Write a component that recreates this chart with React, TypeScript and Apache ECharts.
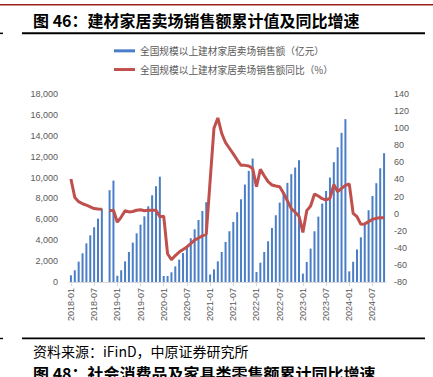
import React, { useEffect, useRef } from "react";
import * as echarts from "echarts";

const titleText = "图 46：建材家居卖场销售额累计值及同比增速";
const sourceText = "资料来源：iFinD，中原证券研究所";
const nextTitleText = "图 48：社会消费品及家具类零售额累计同比增速";
const barName = "全国规模以上建材家居卖场销售额（亿元）";
const lineName = "全国规模以上建材家居卖场销售额同比（%）";

const years = [2018, 2019, 2020, 2021, 2022, 2023, 2024];
const lastMonth2024 = 10;

// 累计销售额（亿元）
const sales2018 = [640, 1120, 1950, 2750, 3700, 4470, 5240, 6070, 7030, null, 8790, 9710];
const sales2019 = [600, 1120, 1980, 2875, 3770, 4660, 5490, 6290, 7250, 8300, 9170, 10080];
const sales2020 = [575, 575, 930, 1500, 2140, 2780, 3390, 4190, 5050, 5940, 6800, 7640];
const sales2021 = [720, 1210, 1980, 2875, 3830, 4860, 5750, 6680, 7920, 9330, 10640, 11820];
const sales2022 = [960, 1850, 2875, 3900, 5175, 6390, 7600, 8560, 9490, 10320, 10960, 11660];
const sales2023 = [800, 1920, 3195, 4860, 6260, 7510, 8720, 10000, 11470, 12900, 14280, 15590];
const sales2024 = [1020, 1940, 3120, 4280, 5530, 6870, 8240, 9460, 10890, 12330];

// 同比（%）
const yoy2018 = [40.5, 19, 14, 11.6, 10, 8, 6, 5.4, 5, null, 3.4, 4];
const yoy2019 = [-10, -4, 3.4, 2, 2.5, 4, 4.5, 3.4, 4, 4, 4, -3.6];
const yoy2020 = [-3, -47, -54, -49, -45, -42, -39, -35, -31, -28.5, -26, -24];
const yoy2021 = [38, 100, 112, 94, 83, 76.5, 70, 63, 56.5, 56.5, 55.7, 53];
const yoy2022 = [31.5, 52, 44.4, 37.4, 33.5, 32.3, 31.5, 23.8, 15, 6, 1.6, -3];
const yoy2023 = [-22, 3.5, 9, 23, 20.6, 17.5, 16, 18, 34, 25.7, 29.6, 33];
const yoy2024 = [34.7, 0.4, -3.6, -12.5, -12, -9.4, -6.6, -5.5, -4.7, -4.7];

const leftTicks = { min: 0, max: 18000, interval: 2000 };
const rightTicks = { min: -80, max: 140, interval: 20 };

const categories: string[] = [];
years.forEach((y) => {
  const last = y === 2024 ? lastMonth2024 : 12;
  for (let m = 1; m <= last; m++) categories.push(`${y}-${m < 10 ? "0" + m : m}`);
});

const salesData = [...sales2018, ...sales2019, ...sales2020, ...sales2021, ...sales2022, ...sales2023, ...sales2024];
const yoyData = [...yoy2018, ...yoy2019, ...yoy2020, ...yoy2021, ...yoy2022, ...yoy2023, ...yoy2024];

const axisFont = "'Liberation Sans', Arial, sans-serif";
const cjkFont = "'Noto Sans CJK SC', sans-serif";

export default function App() {
  const ref = useRef<HTMLDivElement>(null);
  useEffect(() => {
    if (!ref.current) return;
    const chart = echarts.init(ref.current, null, { renderer: "svg" });
    chart.setOption({
      animation: false,
      backgroundColor: "#ffffff",
      legend: {
        orient: "vertical",
        left: 114,
        top: 46,
        padding: 0,
        itemWidth: 21,
        itemHeight: 3,
        itemGap: 9,
        textStyle: { color: "#595959", fontSize: 9.7, fontFamily: cjkFont },
        data: [
          { name: barName, icon: "rect", itemStyle: { color: "#4A7EC7" } },
          { name: lineName, icon: "rect", itemStyle: { color: "#C0504D" } },
        ],
      },
      grid: { left: 69, right: 47, top: 94, bottom: 95, containLabel: false, outerBoundsMode: "none" },
      xAxis: {
        type: "category",
        data: categories,
        boundaryGap: true,
        axisLine: { show: true, lineStyle: { color: "#D9D9D9", width: 1 } },
        axisTick: { show: true, interval: 5, alignWithLabel: true, lineStyle: { color: "#D9D9D9" }, length: 4 },
        axisLabel: {
          interval: 5,
          rotate: 90,
          color: "#595959",
          fontSize: 9,
          fontFamily: axisFont,
          margin: 6,
        },
      },
      yAxis: [
        {
          type: "value",
          min: leftTicks.min,
          max: leftTicks.max,
          interval: leftTicks.interval,
          axisLine: { show: false },
          axisTick: { show: false },
          splitLine: { show: false },
          axisLabel: { color: "#595959", fontSize: 9, fontFamily: axisFont, margin: 11 },
        },
        {
          type: "value",
          min: rightTicks.min,
          max: rightTicks.max,
          interval: rightTicks.interval,
          axisLine: { show: false },
          axisTick: { show: false },
          splitLine: { show: false },
          axisLabel: { color: "#595959", fontSize: 9, fontFamily: axisFont, margin: 8 },
        },
      ],
      series: [
        {
          name: barName,
          type: "bar",
          data: salesData,
          yAxisIndex: 0,
          barWidth: 2,
          itemStyle: { color: "#4A7EC7" },
        },
        {
          name: lineName,
          type: "line",
          data: yoyData,
          yAxisIndex: 1,
          connectNulls: false,
          symbol: "none",
          lineStyle: { color: "#C0504D", width: 3 },
          itemStyle: { color: "#C0504D" },
        },
      ],
      graphic: [
        { type: "rect", shape: { x: 0, y: 4, width: 433, height: 1.6 }, style: { fill: "#9E1F1F" } },
        {
          type: "text",
          x: 33,
          y: 20,
          style: {
            text: titleText,
            fill: "#000000",
            font: `bold 16px ${cjkFont}`,
            textVerticalAlign: "middle",
          },
        },
        { type: "rect", shape: { x: 22, y: 32.3, width: 403, height: 2 }, style: { fill: "#000000" } },
        { type: "rect", shape: { x: 0, y: 32.6, width: 3, height: 1.5 }, style: { fill: "#000000" } },
        { type: "rect", shape: { x: 22, y: 337.6, width: 403, height: 1.6 }, style: { fill: "#000000" } },
        { type: "rect", shape: { x: 0, y: 337.8, width: 3, height: 1.4 }, style: { fill: "#000000" } },
        {
          type: "text",
          x: 33,
          y: 351,
          style: {
            text: sourceText,
            fill: "#000000",
            font: `14px ${cjkFont}`,
            textVerticalAlign: "middle",
          },
        },
        {
          type: "text",
          x: 33,
          y: 365,
          style: {
            text: nextTitleText,
            fill: "#000000",
            font: `bold 16px ${cjkFont}`,
            textVerticalAlign: "top",
          },
        },
      ],
    });
    return () => chart.dispose();
  }, []);
  return (
    <div
      ref={ref}
      style={{ position: "absolute", left: 0, top: 0, width: 433, height: 377, background: "#fff" }}
    />
  );
}
